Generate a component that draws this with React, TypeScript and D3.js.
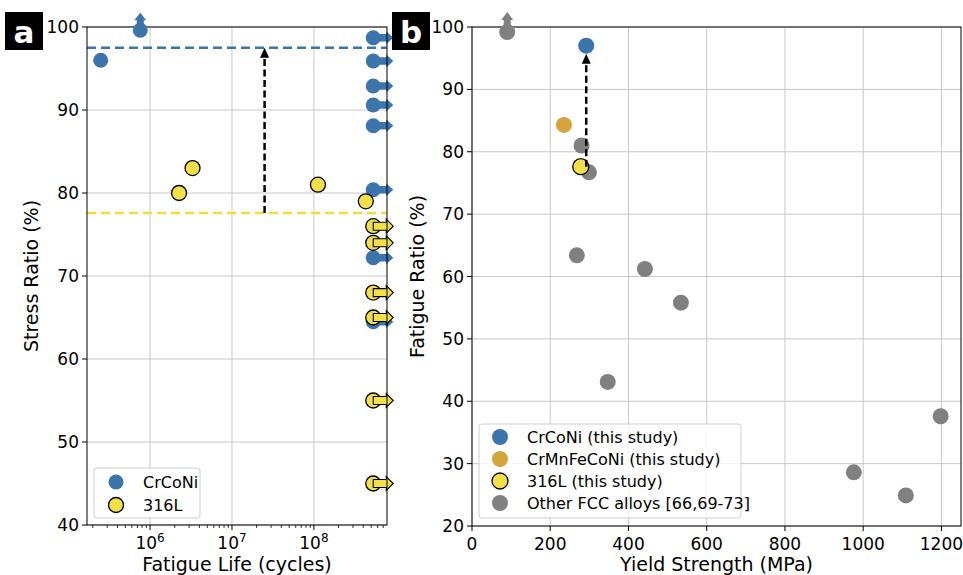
import * as d3 from 'd3';

const crconiFail = [
  { life: 2.5e5, ratio: 96.0 },
];
const crconiUp = [{ life: 7.6e5, ratio: 99.6 }];
const crconiRunout = [98.7, 95.9, 92.9, 90.6, 88.1, 80.4, 72.2, 64.5];
const steelFail = [
  { life: 2.26e6, ratio: 80.0 },
  { life: 3.3e6, ratio: 83.0 },
  { life: 1.12e8, ratio: 81.0 },
  { life: 4.3e8, ratio: 79.0 },
];
const steelRunout = [76.0, 74.0, 68.0, 65.0, 55.0, 45.0];
const runoutLife = 5.3e8;
const crconiLimit = 97.5;
const steelLimit = 77.6;
const arrowLife = 2.5e7;

const bCrCoNi = [{ ys: 292, fr: 97.0 }];
const bCrMnFeCoNi = [{ ys: 235, fr: 84.3 }];
const b316L = [{ ys: 278, fr: 77.6 }];
const bOther = [
  { ys: 280, fr: 81.0 },
  { ys: 299, fr: 76.7 },
  { ys: 268, fr: 63.4 },
  { ys: 442, fr: 61.2 },
  { ys: 534, fr: 55.8 },
  { ys: 347, fr: 43.1 },
  { ys: 976, fr: 28.6 },
  { ys: 1109, fr: 24.9 },
  { ys: 1198, fr: 37.6 },
];
const bOtherUp = [{ ys: 90, fr: 99.2 }];

const yTicksA = [40, 50, 60, 70, 80, 90, 100];
const xTicksA = [6, 7, 8];
const yTicksB = [20, 30, 40, 50, 60, 70, 80, 90, 100];
const xTicksB = [0, 200, 400, 600, 800, 1000, 1200];
const legendA = ['CrCoNi', '316L'];
const legendB = ['CrCoNi (this study)', 'CrMnFeCoNi (this study)', '316L (this study)', 'Other FCC alloys [66,69-73]'];

const BLUE = '#3b75ab';
const YELLOW = '#f2df4a';
const ORANGE = '#d4a53c';
const GRAY = '#808080';
const GRID = '#c8c8c8';
const FONT = 'DejaVu Sans, sans-serif';

// arrow polygon in pixel space, direction 'right' or 'up'
function arrowPath(x, y, dir, len = 20, shaft = 7.5, head = 13, headLen = 7) {
  const pts =
    dir === 'right'
      ? [
          [x, y - shaft / 2], [x + len - headLen, y - shaft / 2], [x + len - headLen, y - head / 2],
          [x + len, y], [x + len - headLen, y + head / 2], [x + len - headLen, y + shaft / 2], [x, y + shaft / 2],
        ]
      : [
          [x - shaft / 2, y], [x - shaft / 2, y - len + headLen], [x - head / 2, y - len + headLen],
          [x, y - len], [x + head / 2, y - len + headLen], [x + shaft / 2, y - len + headLen], [x + shaft / 2, y],
        ];
  return 'M' + pts.map((p) => p.join(',')).join('L') + 'Z';
}

function PanelLabel({ x, y, text }) {
  return (
    <g>
      <rect x={x} y={y} width={38} height={38} fill="#000" />
      <text x={x + 19} y={y + 31} fill="#fff" fontSize={31} fontWeight="bold" textAnchor="middle" fontFamily={FONT}>
        {text}
      </text>
    </g>
  );
}

function PanelA() {
  const left = 87, right = 387, top = 27, bottom = 525;
  const x = d3.scaleLog().domain([1.7e5, 7.8e8]).range([left, right]);
  const y = d3.scaleLinear().domain([40, 100]).range([bottom, top]);
  const minor = [];
  for (let e = 5; e <= 8; e++) {
    for (let m = 2; m <= 9; m++) {
      const v = m * Math.pow(10, e);
      if (v >= 1.7e5 && v <= 7.8e8) minor.push(v);
    }
  }
  const r = 7.5;
  return (
    <g fontFamily={FONT}>
      {xTicksA.map((e) => (
        <line key={e} x1={x(Math.pow(10, e))} x2={x(Math.pow(10, e))} y1={top} y2={bottom} stroke={GRID} />
      ))}
      {yTicksA.map((t) => (
        <line key={t} x1={left} x2={right} y1={y(t)} y2={y(t)} stroke={GRID} />
      ))}
      <line x1={left} x2={right} y1={y(crconiLimit)} y2={y(crconiLimit)} stroke={BLUE} strokeWidth={2.5} strokeDasharray="9,5" />
      <line x1={left} x2={right} y1={y(steelLimit)} y2={y(steelLimit)} stroke="#f0dc3a" strokeWidth={2.5} strokeDasharray="9,5" />
      <line x1={x(arrowLife)} x2={x(arrowLife)} y1={y(steelLimit)} y2={y(crconiLimit) + 9} stroke="#000" strokeWidth={2.5} strokeDasharray="7,3.5" />
      <path d={`M${x(arrowLife) - 4.5},${y(crconiLimit) + 10}L${x(arrowLife)},${y(crconiLimit)}L${x(arrowLife) + 4.5},${y(crconiLimit) + 10}Z`} fill="#000" />
      {crconiRunout.map((v) => (
        <g key={v}>
          <path d={arrowPath(x(runoutLife), y(v), 'right')} fill={BLUE} />
          <circle cx={x(runoutLife)} cy={y(v)} r={r} fill={BLUE} />
        </g>
      ))}
      {crconiFail.map((d) => (
        <circle key={d.life} cx={x(d.life)} cy={y(d.ratio)} r={r} fill={BLUE} />
      ))}
      {steelRunout.map((v) => (
        <g key={v}>
          <circle cx={x(runoutLife)} cy={y(v)} r={r} fill={YELLOW} stroke="#000" strokeWidth={1.3} />
          <path d={arrowPath(x(runoutLife), y(v), 'right', 20, 8, 14, 7)} fill={YELLOW} stroke="#000" strokeWidth={1.1} />
        </g>
      ))}
      {steelFail.map((d) => (
        <circle key={d.life} cx={x(d.life)} cy={y(d.ratio)} r={r} fill={YELLOW} stroke="#000" strokeWidth={1.3} />
      ))}
      <rect x={left} y={top} width={right - left} height={bottom - top} fill="none" stroke="#000" strokeWidth={1} />
      {crconiUp.map((d) => (
        <g key={d.life}>
          <path d={arrowPath(x(d.life), y(d.ratio), 'up', 17.5, 7, 12, 7.5)} fill={BLUE} />
          <circle cx={x(d.life)} cy={y(d.ratio)} r={r} fill={BLUE} />
        </g>
      ))}
      {yTicksA.map((t) => (
        <g key={t}>
          <line x1={left - 5} x2={left} y1={y(t)} y2={y(t)} stroke="#000" />
          <text x={left - 8} y={y(t) + 6} fontSize={17} textAnchor="end">{t}</text>
        </g>
      ))}
      {minor.map((v) => (
        <line key={v} x1={x(v)} x2={x(v)} y1={bottom} y2={bottom + 3} stroke="#000" strokeWidth={0.8} />
      ))}
      {xTicksA.map((e) => (
        <g key={e}>
          <line x1={x(Math.pow(10, e))} x2={x(Math.pow(10, e))} y1={bottom} y2={bottom + 5} stroke="#000" />
          <text x={x(Math.pow(10, e))} y={bottom + 24} fontSize={17} textAnchor="middle">
            10<tspan dy={-7} fontSize={12}>{e}</tspan>
          </text>
        </g>
      ))}
      <text x={(left + right) / 2} y={571} fontSize={19} textAnchor="middle">Fatigue Life (cycles)</text>
      <text transform={`translate(38,${(top + bottom) / 2}) rotate(-90)`} fontSize={19} textAnchor="middle">Stress Ratio (%)</text>
      <rect x={94} y={468} width={106} height={50} rx={3} fill="#fff" fillOpacity={0.8} stroke="#d0d0d0" />
      {legendA.map((name, i) => (
        <g key={name}>
          <circle cx={116} cy={482 + i * 23} r={r} fill={i === 0 ? BLUE : YELLOW} stroke={i === 0 ? 'none' : '#000'} strokeWidth={1.3} />
          <text x={143} y={488 + i * 23} fontSize={16}>{name}</text>
        </g>
      ))}
    </g>
  );
}

function PanelB() {
  const left = 472, right = 961, top = 27, bottom = 526;
  const x = d3.scaleLinear().domain([0, 1250]).range([left, right]);
  const y = d3.scaleLinear().domain([20, 100]).range([bottom, top]);
  const r = 8;
  const d0 = b316L[0], d1 = bCrCoNi[0];
  return (
    <g fontFamily={FONT}>
      {xTicksB.map((t) => (
        <line key={t} x1={x(t)} x2={x(t)} y1={top} y2={bottom} stroke={GRID} />
      ))}
      {yTicksB.map((t) => (
        <line key={t} x1={left} x2={right} y1={y(t)} y2={y(t)} stroke={GRID} />
      ))}
      {bCrCoNi.map((d) => (
        <circle key={d.ys} cx={x(d.ys)} cy={y(d.fr)} r={r} fill={BLUE} />
      ))}
      {bCrMnFeCoNi.map((d) => (
        <circle key={d.ys} cx={x(d.ys)} cy={y(d.fr)} r={r} fill={ORANGE} />
      ))}
      {bOther.map((d) => (
        <circle key={d.ys} cx={x(d.ys)} cy={y(d.fr)} r={r} fill={GRAY} />
      ))}
      {b316L.map((d) => (
        <circle key={d.ys} cx={x(d.ys)} cy={y(d.fr)} r={r} fill={YELLOW} stroke="#000" strokeWidth={1.3} />
      ))}
      <line x1={x(d1.ys)} x2={x(d1.ys)} y1={y(d0.fr)} y2={y(d1.fr) + 17} stroke="#000" strokeWidth={2.5} strokeDasharray="7,3.5" />
      <path d={`M${x(d1.ys) - 4.5},${y(d1.fr) + 18}L${x(d1.ys)},${y(d1.fr) + 8}L${x(d1.ys) + 4.5},${y(d1.fr) + 18}Z`} fill="#000" />
      <rect x={left} y={top} width={right - left} height={bottom - top} fill="none" stroke="#000" strokeWidth={1} />
      {bOtherUp.map((d) => (
        <g key={d.ys}>
          <path d={arrowPath(x(d.ys), y(d.fr), 'up', 20, 7, 12, 8)} fill={GRAY} />
          <circle cx={x(d.ys)} cy={y(d.fr)} r={r} fill={GRAY} />
        </g>
      ))}
      {yTicksB.map((t) => (
        <g key={t}>
          <line x1={left - 5} x2={left} y1={y(t)} y2={y(t)} stroke="#000" />
          <text x={left - 8} y={y(t) + 6} fontSize={17} textAnchor="end">{t}</text>
        </g>
      ))}
      {xTicksB.map((t) => (
        <g key={t}>
          <line x1={x(t)} x2={x(t)} y1={bottom} y2={bottom + 5} stroke="#000" />
          <text x={x(t)} y={bottom + 24} fontSize={17} textAnchor="middle">{t}</text>
        </g>
      ))}
      <text x={(left + right) / 2} y={571} fontSize={19} textAnchor="middle">Yield Strength (MPa)</text>
      <text transform={`translate(424,${(top + bottom) / 2}) rotate(-90)`} fontSize={19} textAnchor="middle">Fatigue Ratio (%)</text>
      <rect x={479} y={424} width={262} height={94} rx={3} fill="#fff" fillOpacity={0.8} stroke="#d0d0d0" />
      {legendB.map((name, i) => (
        <g key={name}>
          <circle
            cx={500}
            cy={437 + i * 22}
            r={r}
            fill={[BLUE, ORANGE, YELLOW, GRAY][i]}
            stroke={i === 2 ? '#000' : 'none'}
            strokeWidth={1.3}
          />
          <text x={527} y={443 + i * 22} fontSize={16}>{name}</text>
        </g>
      ))}
    </g>
  );
}

export default function App() {
  return (
    <svg width={963} height={575} style={{ position: 'absolute', left: 0, top: 0, background: '#fff' }}>
      <rect width={963} height={575} fill="#fff" />
      <PanelA />
      <PanelB />
      <PanelLabel x={5} y={12} text="a" />
      <PanelLabel x={392} y={12} text="b" />
    </svg>
  );
}
